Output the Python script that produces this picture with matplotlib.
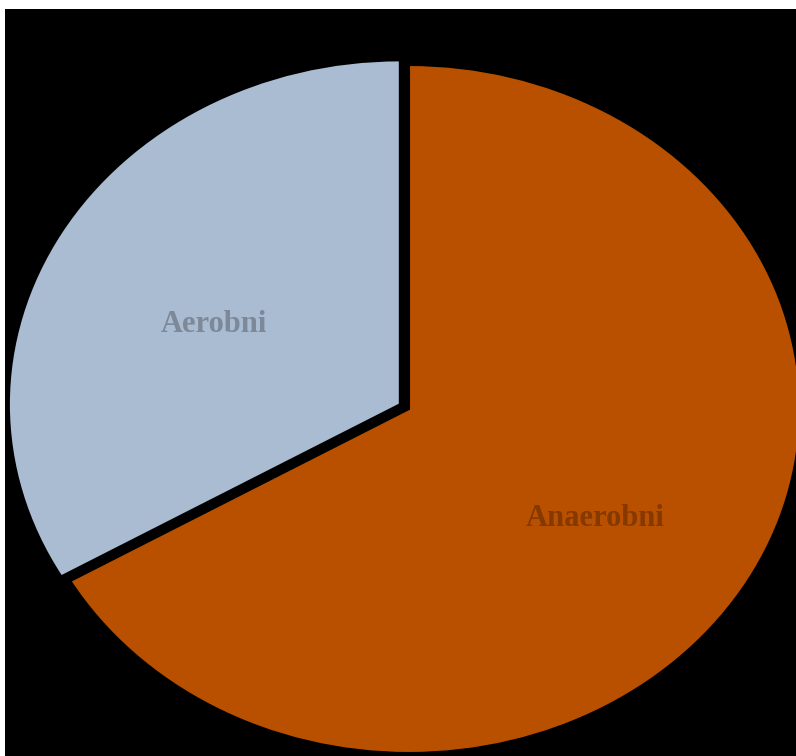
import matplotlib
matplotlib.use("Agg")
import matplotlib.pyplot as plt
from matplotlib.patches import Rectangle

labels = ["Aerobni", "Anaerobni"]
values = [1/3, 2/3]
colors = ["#A9BCD2", "#B85000"]
label_colors = ["#7D8898", "#853800"]
explode = [0.027, 0.0]

W, H = 796, 756
fig = plt.figure(figsize=(W/100, H/100), dpi=100, facecolor="white")
left_px, top_px = 5, 9
fig.add_artist(Rectangle((left_px/W, 0), (W-left_px)/W, (H-top_px)/H,
                         transform=fig.transFigure, facecolor="black",
                         edgecolor="none", zorder=0))
ax = fig.add_axes([left_px/W, 0, (W-left_px)/W, (H-top_px)/H])
ax.patch.set_alpha(0)

wedges, texts = ax.pie(values, labels=labels, colors=colors, explode=explode,
                       startangle=90, counterclock=True, labeldistance=0.55,
                       wedgeprops=dict(edgecolor="black", linewidth=1.5),
                       textprops=dict(family="Liberation Serif", fontweight="bold", fontsize=22))
for t, c in zip(texts, label_colors):
    t.set_color(c)
    t.set_ha("center")
    t.set_va("top")

ax.set_aspect("auto")
cx, cy = 409, 409
rx, ry = 391, 344
ax.set_xlim((left_px - cx)/rx, (W - cx)/rx)
ax.set_ylim((cy - H)/ry, (cy - top_px)/ry)
for s in ax.spines.values():
    s.set_visible(False)
ax.set_xticks([]); ax.set_yticks([])

fig.savefig("out.png", dpi=100, facecolor="white")
